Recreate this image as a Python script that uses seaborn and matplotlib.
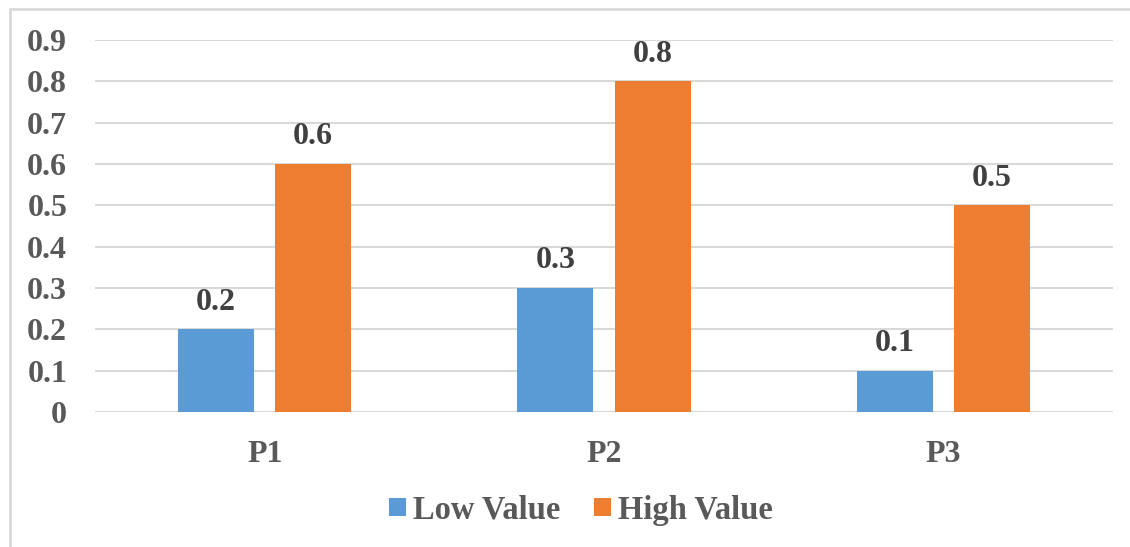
import matplotlib
matplotlib.use("Agg")
import matplotlib.pyplot as plt
from matplotlib.patches import Rectangle
import pandas as pd
import seaborn as sns

# Data
categories = ["P1", "P2", "P3"]
low_values = [0.2, 0.3, 0.1]
high_values = [0.6, 0.8, 0.5]
series_names = ["Low Value", "High Value"]
y_ticks = [0, 0.1, 0.2, 0.3, 0.4, 0.5, 0.6, 0.7, 0.8, 0.9]
y_tick_labels = ["0", "0.1", "0.2", "0.3", "0.4", "0.5", "0.6", "0.7", "0.8", "0.9"]

df = pd.DataFrame({
    "Category": categories * 2,
    "Series": [series_names[0]] * len(categories) + [series_names[1]] * len(categories),
    "Value": low_values + high_values,
})

sns.set_theme(style="white")
plt.rcParams["font.family"] = ["Liberation Serif", "DejaVu Serif"]
plt.rcParams["font.weight"] = "bold"

fig = plt.figure(figsize=(11.3, 5.47), dpi=100)
ax = fig.add_axes([95 / 1130, 1 - 412 / 547, (1113 - 95) / 1130, (412 - 40) / 547])

palette = {"Low Value": "#5B9BD5", "High Value": "#ED7D31"}
sns.barplot(data=df, x="Category", y="Value", hue="Series", order=categories,
            hue_order=series_names, palette=palette, width=0.572, gap=0.217,
            saturation=1, errorbar=None, legend=True, ax=ax, zorder=3,
            linewidth=0)

ax.set_ylim(0, 0.9)
ax.set_xlim(-0.5, len(categories) - 0.5)
ax.set_yticks(y_ticks)
ax.set_yticklabels(y_tick_labels)
ax.yaxis.grid(True, color="#d9d9d9", linewidth=1.5, zorder=0)
ax.set_axisbelow(True)
for s in ax.spines.values():
    s.set_visible(False)
ax.axhline(0, color="#d9d9d9", linewidth=1.5, zorder=1)

ax.tick_params(axis="y", length=0, pad=20, labelsize=23, labelcolor="#595959")
ax.tick_params(axis="x", length=0, pad=20, labelsize=23, labelcolor="#595959")
ax.set_xlabel("")
ax.set_ylabel("")

for container in ax.containers:
    ax.bar_label(container, fmt="%g", padding=9, fontsize=23,
                 fontweight="bold", color="#404040")

handles, labels = ax.get_legend_handles_labels()
ax.get_legend().remove()
fig.legend(handles, labels, loc="center", bbox_to_anchor=(581 / 1130, 1 - 510 / 547),
           ncol=2, frameon=False, labelcolor="#595959",
           handlelength=0.5, handleheight=0.5, handletextpad=0.22,
           columnspacing=1.05, prop={"weight": "bold", "size": 23.5})

# Chart area border
fig.patches.append(Rectangle((9.5 / 1130, -0.1), 1.2, 1.1 - 8.5 / 547,
                             transform=fig.transFigure, fill=False,
                             edgecolor="#d9d9d9", linewidth=2, clip_on=False))

fig.savefig("out.png", dpi=100)
